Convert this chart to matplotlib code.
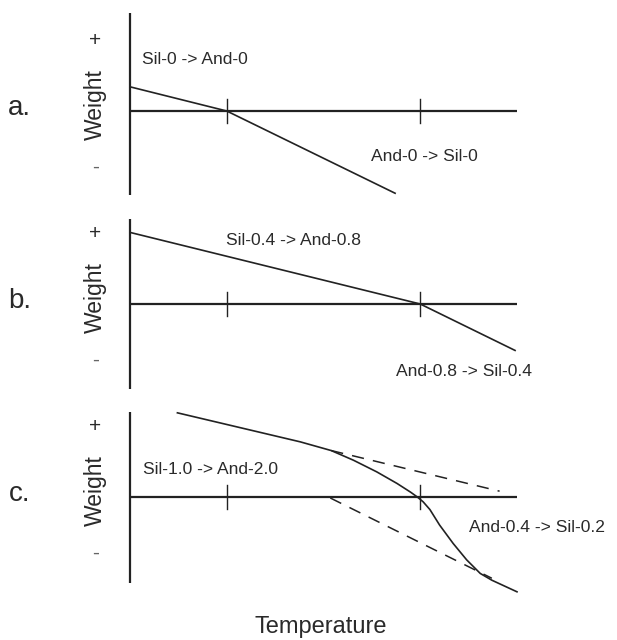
import matplotlib
matplotlib.use("Agg")
import matplotlib.pyplot as plt

plt.rcParams['font.family'] = ['Liberation Sans', 'DejaVu Sans']

# ---- data (Temperature units, Weight units) ----
panel_labels = ["a.", "b.", "c."]
tick_T = [1.0, 3.0]
axis_T_max = 4.0

# panel a
a_T = [0.0, 1.0, 2.74]
a_W = [0.25, 0.0, -0.85]
a_text = ["Sil-0 -> And-0", "And-0 -> Sil-0"]
a_text_T = [0.12, 2.49]
a_text_W = [0.53, -0.47]

# panel b
b_T = [0.0, 3.0, 3.98]
b_W = [0.74, 0.0, -0.48]
b_text = ["Sil-0.4 -> And-0.8", "And-0.8 -> Sil-0.4"]
b_text_T = [0.99, 2.75]
b_text_W = [0.66, -0.70]

# panel c (solid curve)
c_T = [0.49, 1.76, 2.08, 2.31, 2.55, 2.76, 2.90, 2.97, 3.03, 3.10, 3.20, 3.34, 3.48, 3.62, 3.74, 4.0]
c_W = [0.87, 0.57, 0.48, 0.38, 0.26, 0.14, 0.05, 0.0, -0.05, -0.13, -0.29, -0.48, -0.65, -0.79, -0.86, -0.98]
c_dash_upper_T = [2.08, 3.82]
c_dash_upper_W = [0.48, 0.06]
c_dash_lower_T = [2.07, 3.74]
c_dash_lower_W = [-0.01, -0.84]
c_text = ["Sil-1.0 -> And-2.0", "And-0.4 -> Sil-0.2"]
c_text_T = [0.13, 3.5]
c_text_W = [0.28, -0.32]

# ---- layout (pixels) ----
W_PX, H_PX = 617, 640
scale = 96.75          # px per unit
x0 = 130               # px of T = 0
panels = [
    # (top px, bottom px, zero-line px, axis top px, axis bottom px)
    (0, 200, 111, 13, 195),
    (200, 395, 304, 219, 389),
    (395, 600, 497, 412, 583),
]

fig = plt.figure(figsize=(W_PX / 100, H_PX / 100), dpi=100)
fig.patch.set_facecolor("white")

line_c = "#222222"
text_c = "#2a2a2a"

data = [
    (a_T, a_W, a_text, a_text_T, a_text_W),
    (b_T, b_W, b_text, b_text_T, b_text_W),
    (c_T, c_W, c_text, c_text_T, c_text_W),
]

for i, (top, bot, zero, atop, abot) in enumerate(panels):
    ax = fig.add_axes([0, 1 - bot / H_PX, 1, (bot - top) / H_PX])
    ax.set_xlim(-x0 / scale, (W_PX - x0) / scale)
    ax.set_ylim(-(bot - zero) / scale, (zero - top) / scale)
    ax.axis("off")

    # axes lines
    ax.plot([0, 0], [(zero - atop) / scale, -(abot - zero) / scale],
            color=line_c, lw=1.6, solid_capstyle="butt")
    ax.plot([0, axis_T_max], [0, 0], color=line_c, lw=1.6, solid_capstyle="butt")
    for t in tick_T:
        ax.plot([t, t], [0.12, -0.12], color=line_c, lw=1.0)

    T, Wt, texts, tT, tW = data[i]
    ax.plot(T, Wt, color=line_c, lw=1.2, solid_joinstyle="round")
    if i == 2:
        ax.plot(c_dash_upper_T, c_dash_upper_W, color=line_c, lw=1.1,
                dashes=(8, 6))
        ax.plot(c_dash_lower_T, c_dash_lower_W, color=line_c, lw=1.1,
                dashes=(8, 6))

    for s, tx, ty in zip(texts, tT, tW):
        ax.text(tx, ty, s, fontsize=12.6, color=text_c, ha="left", va="center")

    # y-axis labels
    ax.text(-0.36, 0.065, "Weight", rotation=90, fontsize=16.5, color=text_c,
            ha="center", va="center")
    ax.text(-0.36, 0.73, "+", fontsize=15, color=text_c, ha="center", va="center")
    ax.text(-0.36, -0.58, "-", fontsize=15, color="#666666", ha="center", va="center")
    ax.text(-1.14, 0.03, panel_labels[i], fontsize=20, color=text_c,
            ha="center", va="center")

fig.text(321 / W_PX, 1 - 627 / H_PX, "Temperature", fontsize=17, color=text_c,
         ha="center", va="center")

fig.savefig("out.png", dpi=100, facecolor="white")
